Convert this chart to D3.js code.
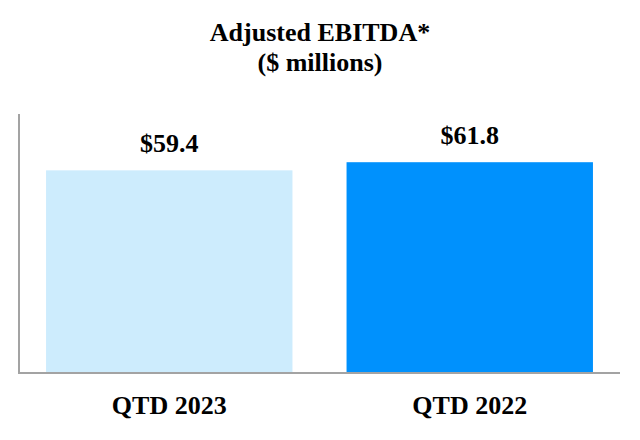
<!DOCTYPE html>
<html>
<head>
<meta charset="utf-8">
<script src="https://cdn.jsdelivr.net/npm/d3@7"></script>
<style>
  body { margin: 0; background: #fff; }
  svg text { font-family: "Liberation Serif", "Times New Roman", serif !important; font-weight: bold; fill: #000; }
</style>
</head>
<body>
<svg id="chart" width="640" height="440"></svg>
<script>
var categories = ["QTD 2023", "QTD 2022"];
var values = [59.4, 61.8];
var valueLabels = ["$59.4", "$61.8"];
var colors = ["#cdecfd", "#0091fd"];
var titleLines = ["Adjusted EBITDA*", "($ millions)"];

var svg = d3.select("#chart");

var x = d3.scaleBand()
    .domain(categories)
    .range([19, 620])
    .paddingInner(0.18)
    .paddingOuter(0.09);

var y = d3.scaleLinear()
    .domain([0, 76])
    .range([372, 114]);

// title
svg.selectAll("text.title")
    .data(titleLines)
    .enter().append("text")
    .attr("class", "title")
    .attr("x", 320)
    .attr("y", function(d, i){ return 41 + i * 30; })
    .attr("text-anchor", "middle")
    .style("font-size", "26px")
    .text(function(d){ return d; });

// bars
svg.selectAll("rect.bar")
    .data(values)
    .enter().append("rect")
    .attr("class", "bar")
    .attr("x", function(d, i){ return x(categories[i]); })
    .attr("y", function(d){ return y(d); })
    .attr("width", x.bandwidth())
    .attr("height", function(d){ return y(0) - y(d); })
    .attr("fill", function(d, i){ return colors[i]; });

// value labels
svg.selectAll("text.val")
    .data(values)
    .enter().append("text")
    .attr("class", "val")
    .attr("x", function(d, i){ return x(categories[i]) + x.bandwidth() / 2; })
    .attr("y", function(d){ return y(d) - 18; })
    .attr("text-anchor", "middle")
    .style("font-size", "26px")
    .text(function(d, i){ return valueLabels[i]; });

// axes lines
svg.append("line")
    .attr("x1", 19).attr("x2", 19)
    .attr("y1", y.range()[1]).attr("y2", y(0) + 1)
    .attr("stroke", "#a3a3a3").attr("stroke-width", 2);
svg.append("line")
    .attr("x1", 18).attr("x2", 620)
    .attr("y1", y(0) + 1).attr("y2", y(0) + 1)
    .attr("stroke", "#a3a3a3").attr("stroke-width", 2);

// category labels
var xAxis = svg.append("g")
    .attr("transform", "translate(0," + (y(0) + 1) + ")")
    .call(d3.axisBottom(x).tickSize(0).tickPadding(22));
xAxis.select(".domain").remove();
xAxis.attr("font-family", null);
xAxis.selectAll("text")
    .attr("dy", null)
    .attr("y", 41)
    .style("font-size", "26px")
    .attr("fill", "#000");
</script>
</body>
</html>
